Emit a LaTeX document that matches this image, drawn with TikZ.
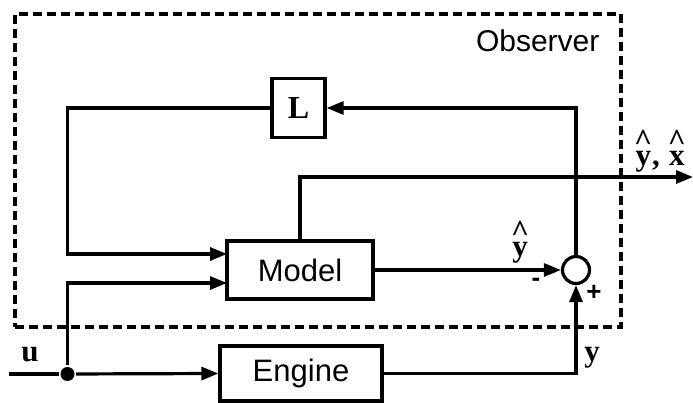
\documentclass[tikz,border=0pt]{standalone}
\usepackage{fontspec}
\setmainfont{Liberation Serif}
\setsansfont{Liberation Sans}
\usetikzlibrary{arrows.meta,calc}
\newcommand\hatted[1]{\leavevmode\vbox{\offinterlineskip\halign{\hfil##\hfil\cr\^{}\cr\noalign{\kern1pt}#1\cr}}}
\begin{document}
\begin{tikzpicture}[x=1pt,y=-1pt,
  line width=3.2pt,
  blk/.style={draw,rectangle,inner sep=0pt,font=\sffamily\fontsize{31}{31}\selectfont},
  sym/.style={inner sep=0pt,font=\bfseries\fontsize{31}{31}\selectfont},
  sgn/.style={inner sep=0pt,font=\sffamily\bfseries\fontsize{26}{26}\selectfont},
  arr/.style={-{Triangle[length=17pt,width=13pt]}},
  dsh/.style={dash pattern=on 9pt off 5pt,line width=3.2pt}]
\useasboundingbox (0,0) rectangle (693,403);
\node[draw,dsh,minimum width=606pt,minimum height=313pt,inner sep=0pt] (obs) at (318,170.5) {};
\node[anchor=base east,inner sep=0pt,font=\sffamily\fontsize{30}{30}\selectfont] (obst) at (601,52) {Observer};
\node[blk,minimum width=53pt,minimum height=59pt,font=\bfseries\fontsize{32}{32}\selectfont] (L) at (298.5,108) {L};
\node[blk,minimum width=146pt,minimum height=58pt] (Model) at (300,270) {Model};
\node[blk,minimum width=162pt,minimum height=55pt] (Engine) at (301,373.5) {Engine};
\node[draw,circle,minimum size=27pt,inner sep=0pt] (sum) at (576,270) {};
\node[fill,circle,minimum size=14pt,inner sep=0pt] (j) at (67.5,374) {};
\coordinate (in1) at (227,254);
\coordinate (in2) at (227,283);
\coordinate (ustart) at (9,374);
\coordinate (outend) at (693,177);
\coordinate (fbcorner) at (67.5,108);
% connectors
\draw[arr] (Model.east) -- (sum.west);
\draw[arr] (Engine.east) -| (sum.south);
\draw[arr] (sum.north) |- (L.east);
\draw[arr] (L.west) -- (fbcorner) |- (in1);
\draw (ustart) -- (j);
\draw[arr] (j) -- (Engine.west);
\draw[arr] (j) |- (in2);
\draw[arr] (Model.north) |- (outend);
% labels
\node[sym,anchor=base] (lyhat) at (520,257) {\hatted{y}};
\node[sgn] (lminus) at (536,282) {-};
\node[sgn] (lplus) at (594,293) {+};
\node[sym,anchor=base] (lu) at (30,361) {u};
\node[sym,anchor=base] (ly) at (592,361) {y};
\node[sym,anchor=base] (lout) at (660,166) {\hatted{y}, \hatted{x}};
\end{tikzpicture}
\end{document}
